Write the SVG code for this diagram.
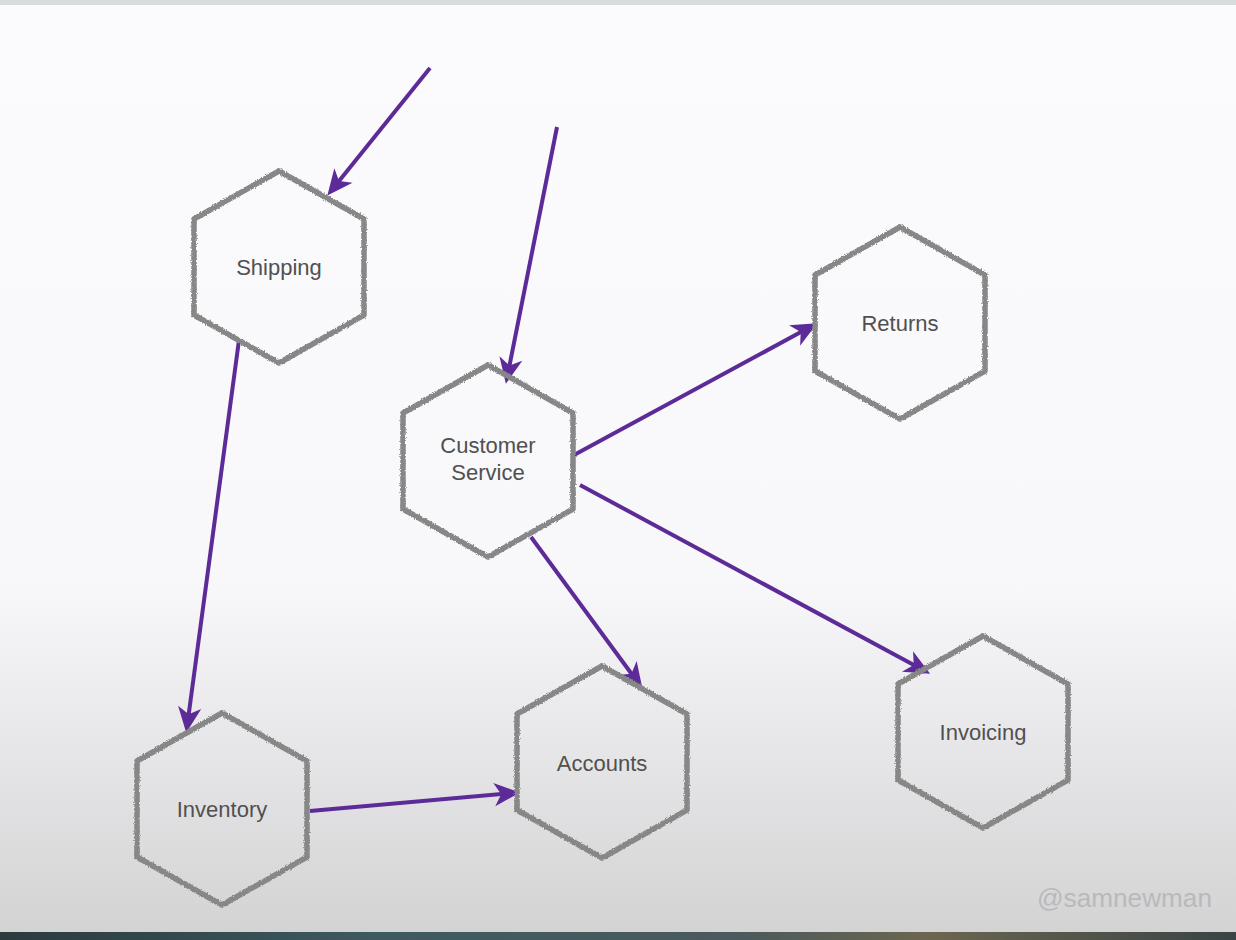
<svg xmlns="http://www.w3.org/2000/svg" width="1236" height="940" viewBox="0 0 1236 940">
  <defs>
    <linearGradient id="bg" x1="0" y1="0" x2="0" y2="1">
      <stop offset="0" stop-color="#fbfbfd"/>
      <stop offset="0.62" stop-color="#f8f8fa"/>
      <stop offset="0.8" stop-color="#e6e6e8"/>
      <stop offset="1" stop-color="#d2d2d3"/>
    </linearGradient>
    <linearGradient id="bottomStrip" x1="0" y1="0" x2="1" y2="0">
      <stop offset="0" stop-color="#2c3a3c"/>
      <stop offset="0.3" stop-color="#3d5a60"/>
      <stop offset="0.6" stop-color="#4c5a5c"/>
      <stop offset="0.75" stop-color="#6b6650"/>
      <stop offset="1" stop-color="#3a4446"/>
    </linearGradient>
    <filter id="rough" x="-10%" y="-10%" width="120%" height="120%">
      <feTurbulence type="fractalNoise" baseFrequency="0.8" numOctaves="2" seed="3" result="n"/>
      <feDisplacementMap in="SourceGraphic" in2="n" scale="3" xChannelSelector="R" yChannelSelector="G"/>
    </filter>
    <polygon id="hex" points="0,-96 85,-48 85,48 0,96 -85,48 -85,-48"/>
    <marker id="head" markerUnits="userSpaceOnUse" markerWidth="28" markerHeight="26" viewBox="0 0 24 22" refX="18" refY="11" orient="auto">
      <path d="M1,1 L23,11 L1,21 L7,11 Z" fill="#5d2b97"/>
    </marker>
  </defs>
  <style>
    .hex { fill: none; stroke: #878787; stroke-width: 5.5; stroke-linejoin: round; filter: url(#rough); }
    .lbl { font-family: "Liberation Sans", Arial, sans-serif; font-size: 22px; fill: #505050; text-anchor: middle; }
    .edge { stroke: #5d2b97; stroke-width: 4; fill: none; stroke-linecap: butt; marker-end: url(#head); }
    .wm { font-family: "Liberation Sans", Arial, sans-serif; font-size: 25px; fill: #b9b9bb; }
  </style>
  <rect x="0" y="0" width="1236" height="940" fill="url(#bg)"/>
  <rect x="0" y="0" width="1236" height="5" fill="#d8dcdc"/>
  <rect x="0" y="932" width="1236" height="8" fill="url(#bottomStrip)"/>

  <g id="connectors">
    <line class="edge" x1="430" y1="68" x2="331" y2="191"/>
    <line class="edge" x1="557" y1="127" x2="507" y2="378"/>
    <line class="edge" x1="239" y1="340" x2="187" y2="727"/>
    <line class="edge" x1="574" y1="455" x2="812" y2="326"/>
    <line class="edge" x1="580" y1="485" x2="925" y2="671"/>
    <line class="edge" x1="531" y1="537" x2="639" y2="684"/>
    <line class="edge" x1="310" y1="811" x2="514" y2="793"/>
  </g>

  <g id="shipping">
    <use href="#hex" class="hex" transform="translate(279,267)"/>
    <text class="lbl" x="279" y="275">Shipping</text>
  </g>
  <g id="customer-service">
    <use href="#hex" class="hex" transform="translate(488,461)"/>
    <text class="lbl" x="488" y="453">Customer</text>
    <text class="lbl" x="488" y="480">Service</text>
  </g>
  <g id="returns">
    <use href="#hex" class="hex" transform="translate(900,323)"/>
    <text class="lbl" x="900" y="331">Returns</text>
  </g>
  <g id="inventory">
    <use href="#hex" class="hex" transform="translate(222,809)"/>
    <text class="lbl" x="222" y="817">Inventory</text>
  </g>
  <g id="accounts">
    <use href="#hex" class="hex" transform="translate(602,762)"/>
    <text class="lbl" x="602" y="771">Accounts</text>
  </g>
  <g id="invoicing">
    <use href="#hex" class="hex" transform="translate(983,732)"/>
    <text class="lbl" x="983" y="740">Invoicing</text>
  </g>

  <text class="wm" x="1037" y="907" textLength="175" lengthAdjust="spacingAndGlyphs">@samnewman</text>
</svg>
